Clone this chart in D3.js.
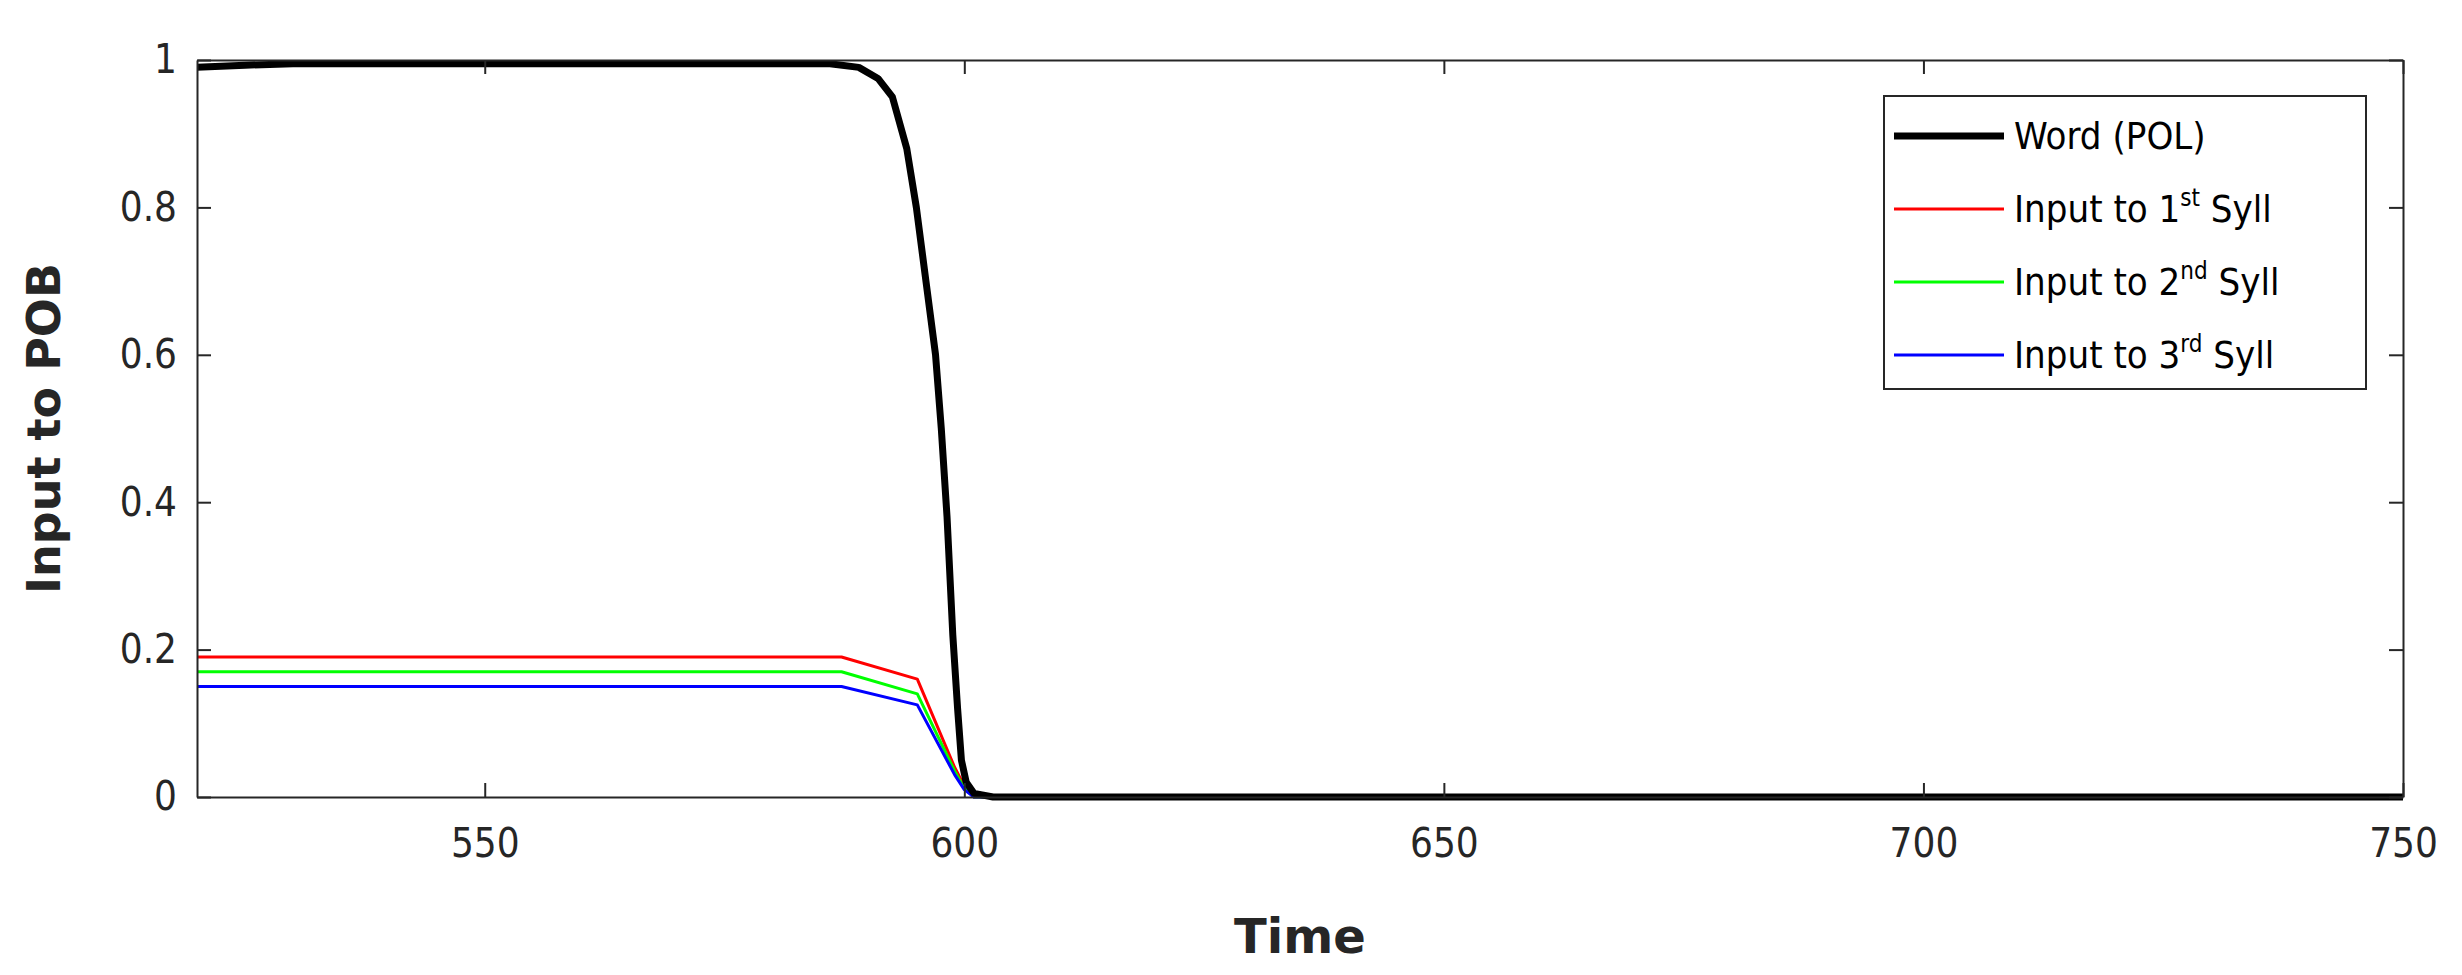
<!DOCTYPE html>
<html><head><meta charset="utf-8">
<script src="https://cdn.jsdelivr.net/npm/d3@7"></script>
<style>body{margin:0;background:#fff;font-family:"DejaVu Sans",sans-serif}</style>
</head><body>
<script>
var W = 2462, H = 975;
var m = {l: 197, r: 59, t: 60, b: 178};

// data
var wordT = [520, 525, 530, 560, 586, 589, 591, 592.5, 594, 595, 596, 597, 597.6, 598.2, 598.8, 599.3, 599.7, 600.2, 601, 603, 610, 750];
var wordV = [0.99, 0.993, 0.995, 0.995, 0.995, 0.99, 0.975, 0.95, 0.88, 0.8, 0.7, 0.6, 0.5, 0.38, 0.22, 0.12, 0.05, 0.02, 0.005, 0, 0, 0];
var syllT = [520, 587.2, 595.1, 599, 600, 601, 610, 750];
var syll1 = [0.19, 0.19, 0.16, 0.04, 0.015, 0, 0, 0];
var syll2 = [0.17, 0.17, 0.14, 0.035, 0.012, 0, 0, 0];
var syll3 = [0.15, 0.15, 0.125, 0.03, 0.01, 0, 0, 0];
var xTicks = [550, 600, 650, 700, 750];
var yTicks = [0, 0.2, 0.4, 0.6, 0.8, 1];

var svg = d3.select('body').append('svg').attr('width', W).attr('height', H);
var x = d3.scaleLinear().domain([520, 750]).range([m.l, W - m.r]);
var y = d3.scaleLinear().domain([0, 1]).range([H - m.b, m.t]);

var plot = svg.append('g');
var clip = svg.append('clipPath').attr('id', 'c').append('rect')
    .attr('x', m.l).attr('y', m.t - 10).attr('width', W - m.r - m.l).attr('height', H - m.b - m.t + 20);

// axes
var xa = svg.append('g').attr('transform', 'translate(0,' + (H - m.b) + ')')
    .call(d3.axisBottom(x).tickValues(xTicks).tickSizeInner(-14).tickSizeOuter(0).tickPadding(24).tickFormat(d3.format('d')));
var xt = svg.append('g').attr('transform', 'translate(0,' + m.t + ')')
    .call(d3.axisTop(x).tickValues(xTicks).tickSizeInner(-14).tickSizeOuter(0).tickFormat(''));
var ya = svg.append('g').attr('transform', 'translate(' + m.l + ',0)')
    .call(d3.axisLeft(y).tickValues(yTicks).tickSizeInner(-14).tickSizeOuter(0).tickPadding(20).tickFormat(function(d){return d;}));
var yr = svg.append('g').attr('transform', 'translate(' + (W - m.r) + ',0)')
    .call(d3.axisRight(y).tickValues(yTicks).tickSizeInner(-14).tickSizeOuter(0).tickFormat(''));
[xa, xt, ya, yr].forEach(function(a){
  a.selectAll('path,line').attr('stroke', '#262626').attr('stroke-width', 2);
  a.selectAll('text').attr('fill', '#262626').style('font-size', '40px').style('font-family', '"DejaVu Sans Condensed","DejaVu Sans",sans-serif');
});
xa.selectAll('text').attr('dy', '0.9em');

svg.append('text').attr('x', (m.l + W - m.r) / 2).attr('y', H - 22)
    .attr('text-anchor', 'middle').style('font-size', '48px').style('font-weight', 'bold')
    .attr('fill', '#262626').text('Time');
svg.append('text').attr('transform', 'translate(60,' + ((m.t + H - m.b) / 2) + ') rotate(-90)')
    .attr('text-anchor', 'middle').style('font-size', '46px').style('font-weight', 'bold')
    .attr('fill', '#262626').text('Input to POB');

var line = d3.line().x(function(d){return x(d[0]);}).y(function(d){return y(d[1]);});
var series = [
  {t: syllT, v: syll1, c: '#ff0000', w: 3},
  {t: syllT, v: syll2, c: '#00ff00', w: 3},
  {t: syllT, v: syll3, c: '#0000ff', w: 3},
  {t: wordT, v: wordV, c: '#000000', w: 7}
];
series.forEach(function(s){
  plot.append('path').datum(d3.zip(s.t, s.v)).attr('d', line)
    .attr('fill', 'none').attr('stroke', s.c).attr('stroke-width', s.w)
    .attr('stroke-linejoin', 'round').attr('clip-path', 'url(#c)');
});

// legend
var lx = 1884, ly = 96, lw = 482, lh = 293;
var lg = svg.append('g');
lg.append('rect').attr('x', lx).attr('y', ly).attr('width', lw).attr('height', lh)
    .attr('fill', '#fff').attr('stroke', '#262626').attr('stroke-width', 2);
var legendItems = [
  {c: '#000', w: 7, txt: ['Word (POL)']},
  {c: '#ff0000', w: 3, txt: ['Input to 1', 'st', ' Syll']},
  {c: '#00ff00', w: 3, txt: ['Input to 2', 'nd', ' Syll']},
  {c: '#0000ff', w: 3, txt: ['Input to 3', 'rd', ' Syll']}
];
legendItems.forEach(function(it, i){
  var yy = ly + 40 + i * 73;
  lg.append('line').attr('x1', lx + 10).attr('x2', lx + 120).attr('y1', yy).attr('y2', yy)
    .attr('stroke', it.c).attr('stroke-width', it.w);
  var t = lg.append('text').attr('x', lx + 130).attr('y', yy + 13)
    .style('font-size', '38px').style('font-family', '"DejaVu Sans Condensed","DejaVu Sans",sans-serif').attr('fill', '#000');
  t.append('tspan').text(it.txt[0]);
  if (it.txt.length > 1) {
    t.append('tspan').attr('dy', -16).style('font-size', '24px').text(it.txt[1]);
    t.append('tspan').attr('dy', 16).text(it.txt[2]);
  }
});
</script>
</body></html>
